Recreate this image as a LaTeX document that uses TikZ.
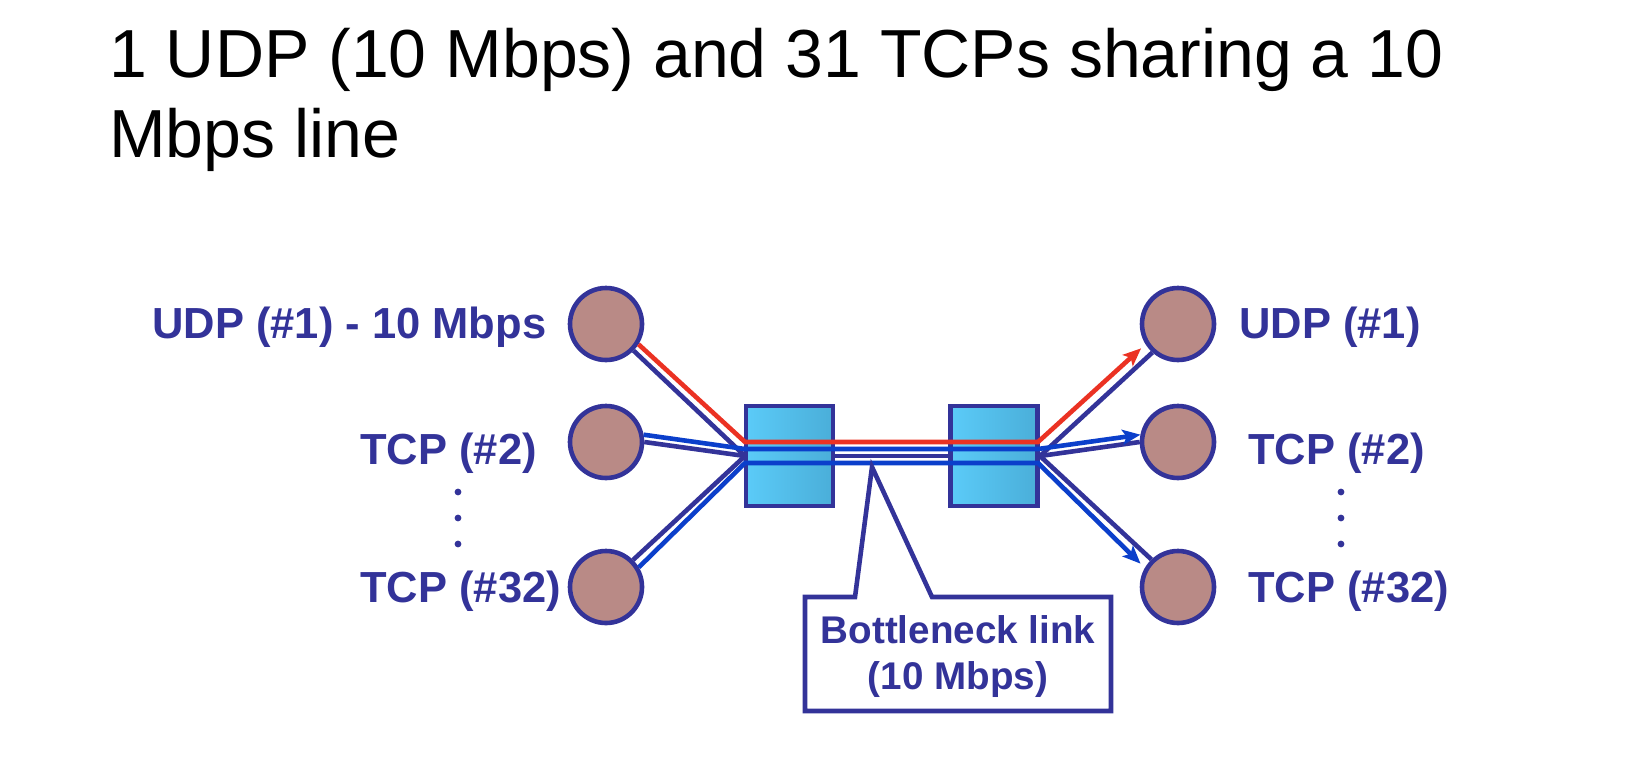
\documentclass[tikz,border=0pt]{standalone}
\usepackage{fontspec}
\setmainfont{Liberation Sans}
\usetikzlibrary{arrows.meta,positioning}

\definecolor{navy}{HTML}{333399}
\definecolor{udpred}{HTML}{EB3223}
\definecolor{tcpblue}{HTML}{0B3FCB}
\definecolor{hostfill}{HTML}{B98A86}
\definecolor{rtleft}{HTML}{5BCBF8}
\definecolor{rtright}{HTML}{4AAED9}

\begin{document}
\begin{tikzpicture}[x=0.5pt,y=-0.5pt,>={Stealth[length=9pt,width=7.5pt,inset=2pt]},
  line width=2.3pt,
  host node/.style={circle,draw=navy,fill=hostfill,minimum size=36pt,inner sep=0pt},
  router node/.style={rectangle,draw=navy,left color=rtleft,right color=rtright,
    minimum width=43.5pt,minimum height=50pt,inner sep=0pt},
  flow label/.style={anchor=base west,inner sep=0pt,text=navy,
    font=\fontsize{21.75}{26}\selectfont\bfseries},
  title text/.style={anchor=base west,inner sep=0pt,
    font=\fontsize{34}{40}\selectfont},
  dot node/.style={circle,fill=navy,inner sep=0pt,minimum size=3.4pt},
  ack/.style={draw=navy},
  udp/.style={draw=udpred,->},
  tcp/.style={draw=tcpblue,->}]

  \useasboundingbox (0,0) rectangle (1652,760);

  \node[title text] (title1) at (107,77)  {1 UDP (10 Mbps) and 31 TCPs sharing a 10};
  \node[title text] (title2) at (107,157) {Mbps line};

  % senders and receivers
  \node[host node] (s1) at (606,324) {};
  \node[host node] (s2) at (606,442) {};
  \node[host node] (s3) at (606,587) {};
  \node[host node] (d1) at (1178,324) {};
  \node[host node] (d2) at (1178,442) {};
  \node[host node] (d3) at (1178,587) {};

  \coordinate (jl) at (745,456);
  \coordinate (jr) at (1040,456);
  \coordinate (ua) at (745,442);
  \coordinate (ub) at (1038,442);
  \coordinate (ta) at (745,449);
  \coordinate (tb) at (1038,449);
  \coordinate (va) at (745,463);
  \coordinate (vb) at (1038,463);

  % return paths
  \path[ack]
    (s1.-44) edge (jl)
    (s2.east) edge (jl)
    (s3.45) edge (jl)
    (jl) edge (jr)
    (d1.228) edge (jr)
    (d2.west) edge (jr)
    (d3.134) edge (jr);

  \node[router node] (r1) at (789.5,456) {};
  \node[router node] (r2) at (994,456) {};

  % data flows
  \draw[udp,shorten >=3pt] (s1.-32) -- (ua) -- (ub) -- (d1.212);
  \draw[tcp] (s2.11) -- (ta) -- (tb) -- (d2.169);
  \draw[tcp,shorten >=3pt] (s3.31) -- (va) -- (vb) -- (d3.150);

  \node[flow label] (ls1) at (150,338)  {UDP (\#1) - 10 Mbps};
  \node[flow label] (ls2) at (358,464)  {TCP (\#2)};
  \node[flow label] (ls3) at (358,602)  {TCP (\#32)};
  \node[flow label] (ld1) at (1237,338) {UDP (\#1)};
  \node[flow label] (ld2) at (1246,464) {TCP (\#2)};
  \node[flow label] (ld3) at (1246,602) {TCP (\#32)};

  \foreach \y [count=\i] in {492,518,544} {
    \node[dot node] (ldot\i) at (458,\y) {};
    \node[dot node] (rdot\i) at (1341,\y) {};
  }

  % callout
  \coordinate (tip) at (872,467);
  \draw[navy,fill=white] (805,597) -- (855,597) -- (tip) -- (932,597)
    -- (1111,597) -- (1111,711) -- (805,711) -- cycle;
  \node[align=center,inner sep=0pt,text=navy,
    font=\fontsize{19.3}{23}\selectfont\bfseries] (bneck) at (958,657)
    {Bottleneck link\\(10 Mbps)};

\end{tikzpicture}
\end{document}
